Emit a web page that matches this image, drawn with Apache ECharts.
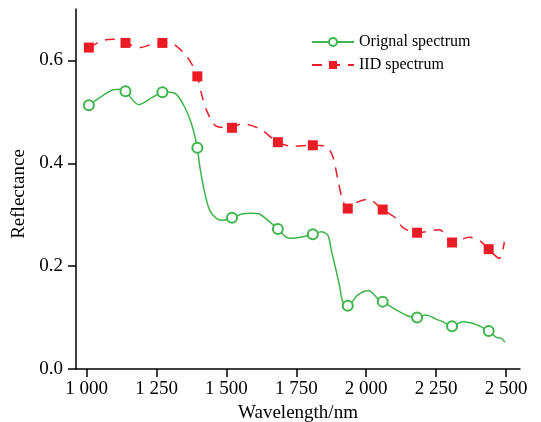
<!DOCTYPE html>
<html>
<head>
<meta charset="utf-8">
<script src="https://cdn.jsdelivr.net/npm/echarts@6/dist/echarts.min.js"></script>
<style>
  html, body { margin: 0; padding: 0; background: #fff; }
  #chart { width: 541px; height: 422px; }
</style>
</head>
<body>
<div id="chart"></div>
<script>
// wavelengths (nm) where the markers sit, shared by both curves
const markerWave = [1008, 1139, 1271, 1396, 1520, 1684, 1809, 1934, 2059, 2182, 2307, 2438];

// original spectrum
const origWave = [1008, 1059, 1095, 1125, 1139, 1187, 1238, 1271, 1297, 1321, 1351, 1375, 1393, 1396,
  1405, 1423, 1440, 1464, 1488, 1520, 1559, 1589, 1619, 1655, 1684, 1726, 1774, 1809, 1839, 1863,
  1875, 1893, 1905, 1916, 1934, 1970, 2006, 2018, 2047, 2059, 2107, 2149, 2182, 2214, 2250, 2274,
  2307, 2345, 2381, 2411, 2438, 2464, 2482, 2496];
const origRefl = [0.513, 0.532, 0.543, 0.544, 0.540, 0.514, 0.529, 0.538, 0.538, 0.534, 0.509, 0.477, 0.439, 0.430,
  0.393, 0.341, 0.309, 0.293, 0.289, 0.294, 0.302, 0.303, 0.301, 0.286, 0.272, 0.254, 0.257, 0.262, 0.267, 0.260,
  0.231, 0.190, 0.160, 0.131, 0.123, 0.144, 0.152, 0.150, 0.134, 0.131, 0.115, 0.103, 0.100, 0.105, 0.097, 0.092,
  0.083, 0.092, 0.089, 0.082, 0.074, 0.062, 0.060, 0.052];

// IID spectrum
const iidWave = [1008, 1059, 1095, 1139, 1190, 1232, 1271, 1297, 1345, 1375, 1396, 1411, 1429, 1464,
  1520, 1554, 1619, 1684, 1738, 1809, 1857, 1881, 1899, 1916, 1934, 1970, 2006, 2059, 2107, 2131,
  2182, 2262, 2307, 2369, 2405, 2438, 2476, 2494];
const iidRefl = [0.625, 0.639, 0.641, 0.634, 0.625, 0.631, 0.634, 0.634, 0.616, 0.594, 0.569, 0.535, 0.503, 0.472,
  0.469, 0.477, 0.467, 0.441, 0.433, 0.435, 0.433, 0.412, 0.367, 0.328, 0.312, 0.325, 0.330, 0.310, 0.293, 0.275,
  0.265, 0.271, 0.246, 0.256, 0.250, 0.233, 0.215, 0.247];

const xTicks = [1000, 1250, 1500, 1750, 2000, 2250, 2500];
const yTicks = [0, 0.2, 0.4, 0.6];

const serif = "Liberation Serif";
const green = "#3db54a";
const red = "#ec1c27";

function buildData(waves, vals) {
  return waves.map((w, i) =>
    markerWave.includes(w) ? [w, vals[i]] : { value: [w, vals[i]], symbol: "none" }
  );
}

const chart = echarts.init(document.getElementById("chart"));

const axisLine = { lineStyle: { color: "#000", width: 1.5 } };

chart.setOption({
  backgroundColor: "#fff",
  animation: false,
  grid: { left: 76, right: 21, top: 9, bottom: 53, outerBoundsMode: "none" },
  legend: {
    orient: "vertical",
    left: 306,
    top: 29,
    itemWidth: 42,
    itemHeight: 10,
    itemGap: 7,
    textStyle: { fontFamily: serif, fontSize: 16, color: "#000" },
    data: ["Orignal spectrum", "IID spectrum"]
  },
  xAxis: {
    type: "value",
    min: 962,
    max: 2550,
    name: "Wavelength/nm",
    nameLocation: "middle",
    nameGap: 32,
    nameTextStyle: { fontFamily: serif, fontSize: 19, color: "#000" },
    axisLine: axisLine,
    axisTick: { show: true, length: 8, customValues: xTicks, lineStyle: { color: "#000", width: 1.5 } },
    axisLabel: {
      customValues: xTicks,
      margin: 11,
      fontFamily: serif,
      fontSize: 19,
      color: "#000",
      formatter: v => String(v).replace(/\B(?=(\d{3})+$)/, " ")
    },
    splitLine: { show: false }
  },
  yAxis: {
    type: "value",
    min: 0,
    max: 0.7,
    name: "Reflectance",
    nameLocation: "middle",
    nameGap: 42,
    nameTextStyle: { fontFamily: serif, fontSize: 19, color: "#000", padding: [0, 10, 0, 0] },
    axisLine: axisLine,
    axisTick: { show: true, length: 8, customValues: yTicks, lineStyle: { color: "#000", width: 1.5 } },
    axisLabel: {
      customValues: yTicks,
      margin: 13,
      fontFamily: serif,
      fontSize: 19,
      color: "#000",
      formatter: v => v.toFixed(1)
    },
    splitLine: { show: false }
  },
  series: [
    {
      name: "Orignal spectrum",
      type: "line",
      smooth: 0.3,
      symbol: "emptyCircle",
      symbolSize: 10,
      showAllSymbol: true,
      itemStyle: { color: green, borderColor: green, borderWidth: 1.5 },
      lineStyle: { color: green, width: 1.5 },
      data: buildData(origWave, origRefl)
    },
    {
      name: "IID spectrum",
      type: "line",
      smooth: 0.3,
      symbol: "rect",
      symbolSize: 10,
      showAllSymbol: true,
      itemStyle: { color: red },
      lineStyle: { color: red, width: 1.5, type: [10, 8] },
      data: buildData(iidWave, iidRefl)
    }
  ]
});
</script>
</body>
</html>
